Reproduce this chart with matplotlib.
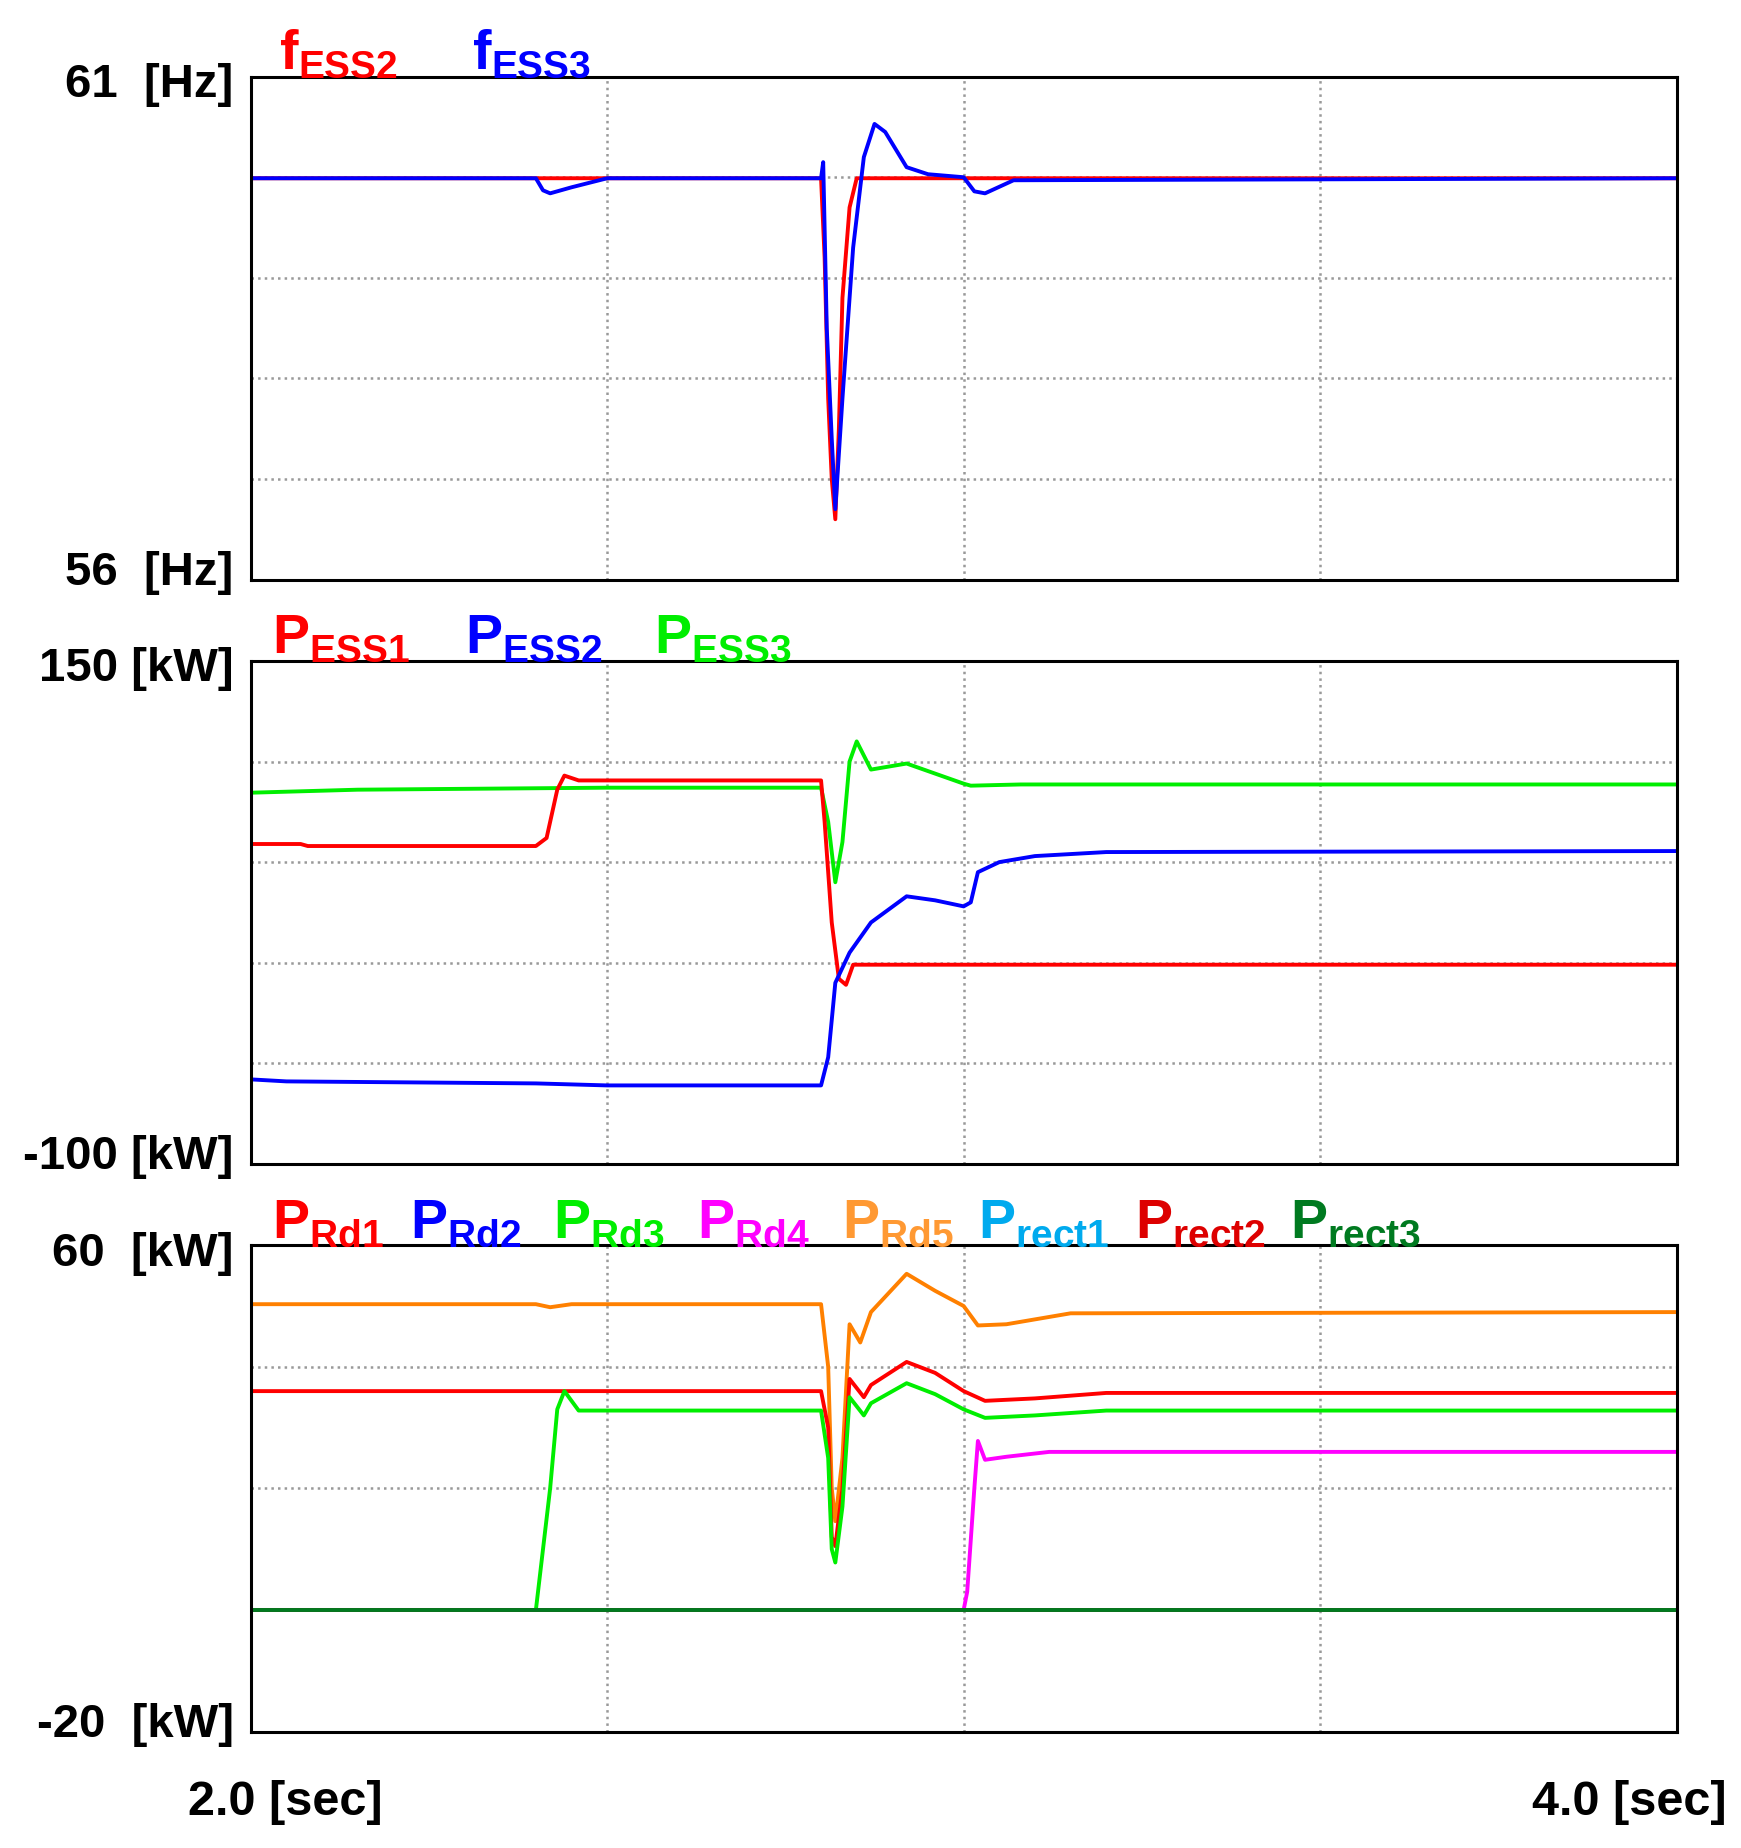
import matplotlib
matplotlib.use("Agg")
import matplotlib.pyplot as plt

plt.rcParams['font.family'] = ['Liberation Sans', 'DejaVu Sans']
plt.rcParams['font.weight'] = 'bold'
plt.rcParams['mathtext.fontset'] = 'custom'
plt.rcParams['mathtext.rm'] = 'Liberation Sans:bold'
plt.rcParams['mathtext.bf'] = 'Liberation Sans:bold'

# ---- panel 1: frequency [Hz]
t_f2 = [2.0, 2.80, 2.805, 2.81, 2.815, 2.82, 2.825, 2.83, 2.84, 2.85, 4.0]
f_ess2 = [59.99, 59.99, 59.2, 57.8, 57.0, 56.6, 57.5, 58.8, 59.7, 59.99, 59.99]
t_f3 = [2.0, 2.40, 2.41, 2.42, 2.45, 2.50, 2.80, 2.803, 2.808, 2.815, 2.82, 2.83, 2.845, 2.86, 2.875, 2.89, 2.92, 2.95, 3.0, 3.015, 3.03, 3.07, 4.0]
f_ess3 = [59.99, 59.99, 59.87, 59.84, 59.9, 59.99, 59.99, 60.15, 58.5, 57.4, 56.7, 57.8, 59.3, 60.2, 60.53, 60.45, 60.1, 60.03, 60.0, 59.86, 59.84, 59.97, 59.99]

# ---- panel 2: ESS power [kW]
t_p1 = [2.0, 2.07, 2.08, 2.40, 2.415, 2.43, 2.44, 2.46, 2.80, 2.805, 2.815, 2.825, 2.835, 2.845, 2.86, 4.0]
p_ess1 = [59, 59, 58, 58, 62, 86, 93, 90.6, 90.6, 70, 20, -8, -11, -1, -1, -1]
t_p2 = [2.0, 2.05, 2.40, 2.50, 2.80, 2.81, 2.82, 2.84, 2.87, 2.92, 2.96, 3.0, 3.01, 3.02, 3.05, 3.10, 3.20, 4.0]
p_ess2 = [-58, -59, -60, -61, -61, -47, -10, 5, 20, 33, 31, 28, 30, 45, 50, 53, 55, 55.5]
t_p3 = [2.0, 2.15, 2.50, 2.80, 2.81, 2.82, 2.83, 2.84, 2.85, 2.87, 2.92, 2.96, 3.0, 3.01, 3.08, 4.0]
p_ess3 = [84.5, 86, 87, 87, 70, 40, 60, 100, 110, 96, 99, 94, 89, 88, 88.6, 88.6]

# ---- panel 3: load / rectifier power [kW]
t_r1 = [2.0, 2.80, 2.81, 2.815, 2.82, 2.83, 2.84, 2.86, 2.87, 2.92, 2.96, 3.0, 3.03, 3.1, 3.2, 4.0]
p_rd1 = [36, 36, 30, 12, 10.5, 20, 38, 35, 37, 40.8, 39, 36, 34.4, 34.8, 35.7, 35.7]
t_r3 = [2.0, 2.40, 2.42, 2.43, 2.44, 2.46, 2.80, 2.81, 2.815, 2.82, 2.83, 2.84, 2.86, 2.87, 2.92, 2.96, 3.0, 3.03, 3.1, 3.2, 4.0]
p_rd3 = [0, 0, 20, 33, 36, 32.8, 32.8, 25, 10, 7.8, 17, 35, 32, 34, 37.3, 35.5, 33, 31.6, 32, 32.8, 32.8]
t_r4 = [2.0, 3.0, 3.005, 3.015, 3.02, 3.03, 3.06, 3.12, 4.0]
p_rd4 = [0, 0, 3, 20, 27.8, 24.7, 25.2, 26, 26]
t_r5 = [2.0, 2.40, 2.42, 2.45, 2.80, 2.81, 2.815, 2.82, 2.83, 2.84, 2.855, 2.87, 2.92, 2.96, 3.0, 3.02, 3.06, 3.15, 4.0]
p_rd5 = [50.3, 50.3, 49.8, 50.3, 50.3, 40, 20, 14.6, 25, 47, 44, 49, 55.3, 52.5, 50, 46.8, 47, 48.8, 49]
t_zero = [2.0, 4.0]
p_zero = [0, 0]

XMIN, XMAX = 2.0, 4.0
fig = plt.figure(figsize=(17.41, 18.49), dpi=100)
L, R = 0.144, 0.963
panels = [(0.686, 0.958), (0.370, 0.642), (0.063, 0.326)]
axes = [fig.add_axes([L, b, R - L, t - b]) for b, t in panels]

def style(ax, ymin, ymax, ndiv, top, bottom):
    ax.set_xlim(XMIN, XMAX)
    ax.set_ylim(ymin, ymax)
    ax.set_xticks([2.5, 3.0, 3.5])
    step = (ymax - ymin) / ndiv
    ax.set_yticks([ymin + step * i for i in range(1, ndiv)])
    ax.grid(True, color='#999999', linestyle=':', linewidth=1.8)
    ax.tick_params(length=0, labelbottom=False, labelleft=False)
    for s in ax.spines.values():
        s.set_linewidth(2.2)
    ax.text(-0.012, 0.985, top, transform=ax.transAxes, ha='right', va='center', fontsize=34, fontweight='bold')
    ax.text(-0.012, 0.015, bottom, transform=ax.transAxes, ha='right', va='center', fontsize=34, fontweight='bold')

lw = 2.8
a1, a2, a3 = axes
a1.plot(t_f2, f_ess2, color='#ff0000', lw=lw)
a1.plot(t_f3, f_ess3, color='#0000ff', lw=lw)
style(a1, 56, 61, 5, '61  [Hz]', '56  [Hz]')

a2.plot(t_p3, p_ess3, color='#00ee00', lw=lw)
a2.plot(t_p1, p_ess1, color='#ff0000', lw=lw)
a2.plot(t_p2, p_ess2, color='#0000ff', lw=lw)
style(a2, -100, 150, 5, '150 [kW]', '-100 [kW]')

a3.plot(t_r5, p_rd5, color='#ff8000', lw=lw)
a3.plot(t_r1, p_rd1, color='#ff0000', lw=lw)
a3.plot(t_r3, p_rd3, color='#00ee00', lw=lw)
a3.plot(t_r4, p_rd4, color='#ff00ff', lw=lw)
a3.plot(t_zero, p_zero, color='#0000ff', lw=lw)
a3.plot(t_zero, p_zero, color='#00aaff', lw=lw)
a3.plot(t_zero, p_zero, color='#cc0000', lw=lw)
a3.plot(t_zero, p_zero, color='#007a20', lw=lw)
style(a3, -20, 60, 4, '60  [kW]', '-20  [kW]')

def legend(ax, items, xs):
    for (lbl, sub, col), x in zip(items, xs):
        ax.text(x, 1.045, r'$\mathrm{%s}_{\mathrm{%s}}$' % (lbl, sub), transform=ax.transAxes,
                color=col, fontsize=40, ha='left', va='center')

legend(a1, [('f', 'ESS2', '#ff0000'), ('f', 'ESS3', '#0000ff')], [0.02, 0.155])
legend(a2, [('P', 'ESS1', '#ff0000'), ('P', 'ESS2', '#0000ff'), ('P', 'ESS3', '#00ee00')], [0.015, 0.15, 0.283])
legend(a3, [('P', 'Rd1', '#ff0000'), ('P', 'Rd2', '#0000ff'), ('P', 'Rd3', '#00ee00'), ('P', 'Rd4', '#ff00ff'),
            ('P', 'Rd5', '#ff9933'), ('P', 'rect1', '#00aaee'), ('P', 'rect2', '#dd0000'), ('P', 'rect3', '#007a20')],
       [0.015, 0.112, 0.212, 0.313, 0.415, 0.510, 0.620, 0.729])

fig.text(0.164, 0.025, '2.0 [sec]', ha='center', va='center', fontsize=35, fontweight='bold')
fig.text(0.992, 0.025, '4.0 [sec]', ha='right', va='center', fontsize=35, fontweight='bold')

fig.savefig('out.png', dpi=100, facecolor='white')
